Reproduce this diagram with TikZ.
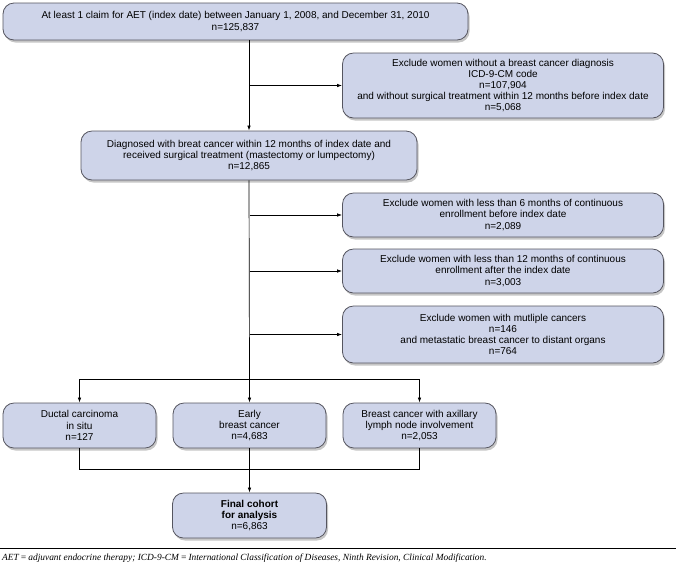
\documentclass[tikz,border=0pt]{standalone}
\usepackage{fontspec}
\setmainfont{Liberation Sans}
\newfontfamily\notefont{Liberation Serif}
\usetikzlibrary{arrows.meta,shadows}
\definecolor{boxfill}{RGB}{206,212,233}
\definecolor{boxline}{RGB}{85,85,95}

\begin{document}
\begin{tikzpicture}[x=1pt,y=-1pt,
    every node/.style={font=\fontsize{10}{11.2}\selectfont},
    flowbox/.style={draw=boxline,fill=boxfill,line width=0.8pt,rounded corners=11pt,
      inner sep=0pt,align=center,
      drop shadow={shadow xshift=1.5pt,shadow yshift=-2.5pt,opacity=0.45}},
    link/.style={line width=0.7pt,-{Latex[length=5pt,width=3.5pt]}}]
    \useasboundingbox (0,0) rectangle (676,566);
    % main line
    \node[flowbox,minimum width=465pt,minimum height=37pt] (claim) at (235.5,21.5)
      {At least 1 claim for AET (index date) between January 1, 2008, and December 31, 2010\\ n=125,837};
    \node[flowbox,minimum width=336pt,minimum height=49pt] (diag) at (249,155.5)
      {Diagnosed with breat cancer within 12 months of index date and\\ received surgical treatment (mastectomy or lumpectomy)\\ n=12,865};
    % exclusions
    \node[flowbox,minimum width=321pt,minimum height=65pt] (exdiag) at (503,85.5)
      {Exclude women without a breast cancer diagnosis\\ ICD-9-CM code\\ n=107,904\\
       and without surgical treatment within 12 months before index date\\ n=5,068};
    \node[flowbox,minimum width=321pt,minimum height=44pt] (exbefore) at (503,215)
      {Exclude women with less than 6 months of continuous\\ enrollment before index date\\ n=2,089};
    \node[flowbox,minimum width=321pt,minimum height=44pt] (exafter) at (503,271)
      {Exclude women with less than 12 months of continuous\\ enrollment after the index date\\ n=3,003};
    \node[flowbox,minimum width=321pt,minimum height=57pt] (exmulti) at (503,334.5)
      {Exclude women with mutliple cancers\\ n=146\\ and metastatic breast cancer to distant organs\\ n=764};
    % subgroups
    \node[flowbox,minimum width=153pt,minimum height=45pt] (dcis) at (79.5,425.5)
      {Ductal carcinoma\\ in situ\\ n=127};
    \node[flowbox,minimum width=153pt,minimum height=45pt] (early) at (249.5,425.5)
      {Early\\ breast cancer\\ n=4,683};
    \node[flowbox,minimum width=153pt,minimum height=45pt] (axil) at (419.5,425.5)
      {Breast cancer with axillary\\ lymph node involvement\\ n=2,053};
    \node[flowbox,minimum width=154pt,minimum height=45pt] (final) at (249.5,515.5)
      {\textbf{Final cohort}\\ \textbf{for analysis}\\ n=6,863};
    \coordinate (split) at (249.5,379);
    \coordinate (merge) at (249.5,469);

    \draw[link] (diag.north |- claim.south) -- (diag.north);
    \draw[link] (diag.north |- exdiag.west) -- (exdiag.west);
    \draw[line width=0.7pt] (diag.south) -- (split);
    \draw[link] (split |- exbefore.west) -- (exbefore.west);
    \draw[link] (split |- exafter.west) -- (exafter.west);
    \draw[link] (split |- exmulti.west) -- (exmulti.west);
    \draw[link] (split) -| (dcis.north);
    \draw[link] (split) -| (axil.north);
    \draw[link] (split) -- (early.north);
    \draw[line width=0.7pt] (dcis.south) |- (merge) -| (axil.south);
    \draw[link] (early.south) -- (final.north);

    % footnote
    \draw[line width=1pt] (0,548) -- (676,548);
    \node[anchor=west,inner sep=0pt,font=\notefont\itshape\fontsize{9.4}{11}\selectfont] (note) at (2,558)
      {AET\,=\,adjuvant endocrine therapy; ICD-9-CM\,=\,International Classification of Diseases, Ninth Revision, Clinical Modification.};
\end{tikzpicture}
\end{document}
